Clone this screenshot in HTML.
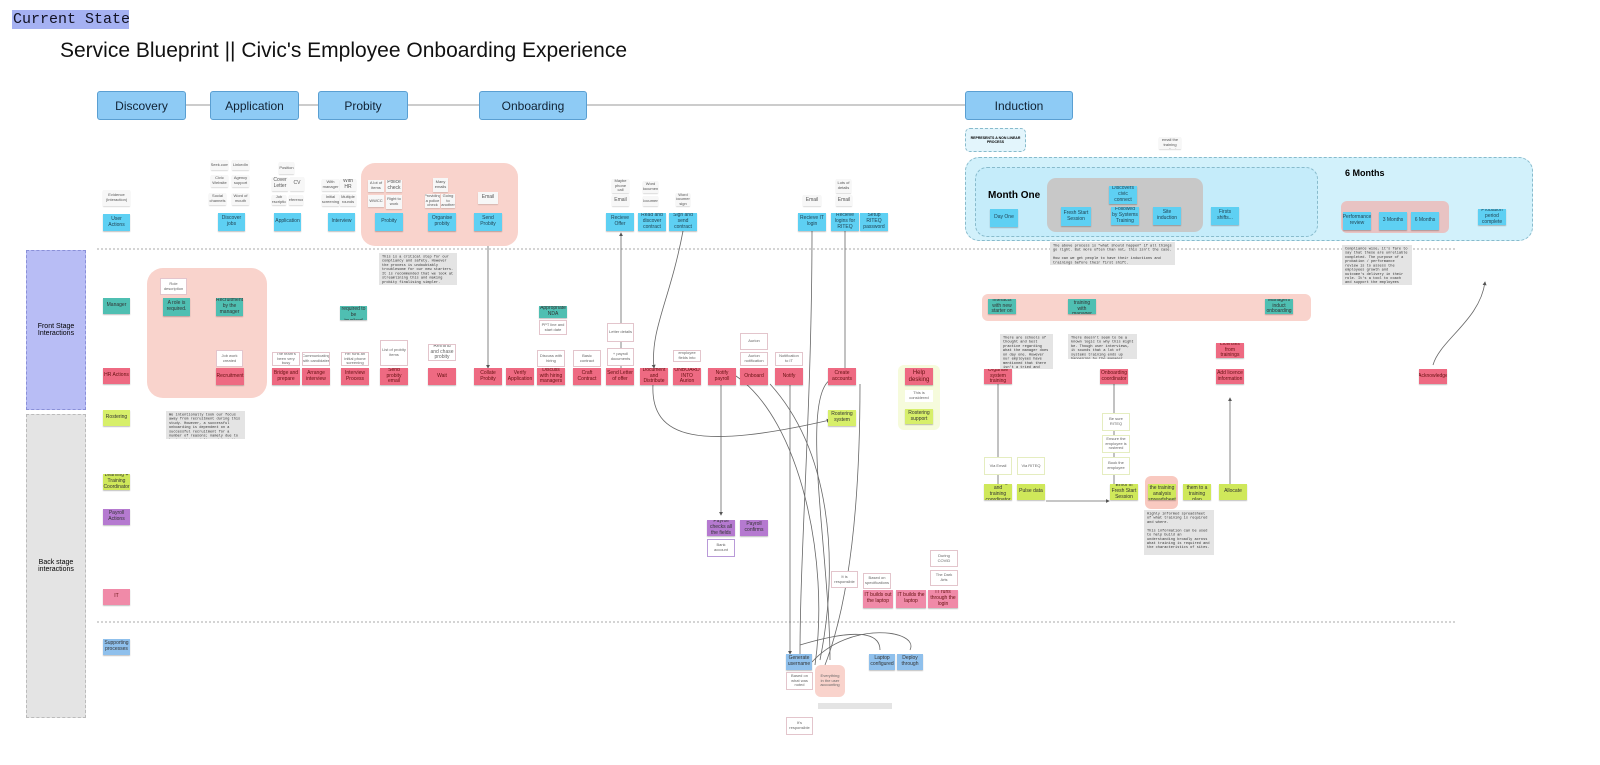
<!DOCTYPE html>
<html><head><meta charset="utf-8"><style>
*{margin:0;padding:0;box-sizing:border-box}
body{width:1600px;height:765px;background:#fff;position:relative;overflow:hidden;font-family:"Liberation Sans",sans-serif}
.a{position:absolute}
.s{position:absolute;display:flex;align-items:center;justify-content:center;text-align:center;font-size:5px;line-height:1.15;color:#333;box-shadow:0 1px 1px rgba(0,0,0,.25);overflow:hidden;padding:1px}
.c{background:#5ed0f3;color:#245}
.t{background:#4fbfb2}
.p{background:#ee6a82;color:#611}
.g{background:#d7ef6a}
.l{background:#cfe85a}
.u{background:#b57ad0}
.b{background:#8fc0ec}
.w{background:#fff;border:1px solid #e3c5cc;box-shadow:none;font-size:4px;color:#666}
.e{background:#f7f7f7;box-shadow:0 1px 1px rgba(0,0,0,.15);font-size:4px;color:#555}
.n{position:absolute;background:#e4e4e4;font-family:"Liberation Mono",monospace;font-size:7.2px;line-height:1.17;color:#333;padding:4px 6px;transform:scale(.5);transform-origin:0 0;overflow:hidden}
.ph{position:absolute;top:91px;height:29px;background:#8ecbf5;border:1px solid #5a9fd2;border-radius:3px;font-size:12px;display:flex;align-items:center;justify-content:center;color:#123}
.lane{position:absolute;left:103px;width:27px;height:16px;font-size:5px}
</style></head><body>
<div class="a" style="left:12px;top:10px;width:117px;height:19px;background:#a5b1f2;font:15px 'Liberation Mono',monospace;line-height:19px;padding-left:1px;color:#112;white-space:nowrap;overflow:hidden">Current State</div>
<div class="a" style="left:60px;top:39px;font-size:21px;color:#111;white-space:nowrap">Service Blueprint || Civic's Employee Onboarding Experience</div>

<svg class="a" style="left:0;top:0" width="1600" height="765">
<defs><marker id="ar" markerWidth="5" markerHeight="5" refX="4" refY="2.5" orient="auto"><path d="M0,0L5,2.5L0,5z" fill="#555"/></marker></defs>
<line x1="97" y1="105" x2="1073" y2="105" stroke="#999" stroke-width="1"/>
<line x1="97" y1="249" x2="1455" y2="249" stroke="#aaa" stroke-dasharray="2,2"/>
<line x1="97" y1="622" x2="1455" y2="622" stroke="#aaa" stroke-dasharray="2,2"/>
<g stroke="#666" fill="none" stroke-width="0.8">
<path d="M488,231V368" marker-end="url(#ar)"/>
<path d="M621,368V233" marker-end="url(#ar)"/>
<path d="M176,316V350H229V360"/>
<path d="M683,231C670,300 650,330 654,368" marker-end="url(#ar)"/>
<path d="M653,384C650,440 700,450 830,420" marker-end="url(#ar)"/>
<path d="M812,231C812,400 800,550 800,654"/>
<path d="M845,231V368"/>
<path d="M790,384V654" marker-end="url(#ar)"/>
<path d="M721,384V515" marker-end="url(#ar)"/>
<path d="M736,376C800,420 830,560 815,665"/>
<path d="M770,384C830,450 840,560 820,660"/>
<path d="M860,384C860,500 850,600 825,665"/>
<path d="M830,380C800,400 830,560 830,660"/>
<path d="M812,662C850,620 920,630 910,650"/>
<path d="M800,645C850,630 880,630 880,650"/>
<path d="M998,384V484"/><path d="M1114,384V484"/><path d="M1046,501H1109" marker-end="url(#ar)"/>
<path d="M1230,484V398" marker-end="url(#ar)"/>
<path d="M1433,365C1440,340 1480,320 1485,282" marker-end="url(#ar)"/>
</g>
</svg>

<div class="ph" style="left:97px;width:89px">Discovery</div>
<div class="ph" style="left:210px;width:89px">Application</div>
<div class="ph" style="left:318px;width:90px">Probity</div>
<div class="ph" style="left:479px;width:108px">Onboarding</div>
<div class="ph" style="left:965px;width:108px">Induction</div>

<div class="a" style="left:26px;top:250px;width:60px;height:160px;background:#b8bdf5;border:1px dashed #8a90d8;font-size:7px;display:flex;align-items:center;justify-content:center;text-align:center">Front Stage<br>Interactions</div>
<div class="a" style="left:26px;top:414px;width:60px;height:304px;background:#e4e4e4;border:1px dashed #bbb;font-size:7px;display:flex;align-items:center;justify-content:center;text-align:center">Back stage<br>interactions</div>

<div class="a" style="left:361px;top:163px;width:157px;height:83px;background:#f9d3cc;border-radius:14px"></div>
<div class="a" style="left:147px;top:268px;width:120px;height:130px;background:#f9d3cc;border-radius:16px"></div>
<div class="a" style="left:965px;top:157px;width:568px;height:84px;background:#d2f1fb;border:1px dashed #8bc;border-radius:14px"></div>
<div class="a" style="left:975px;top:167px;width:343px;height:70px;background:#c5ecfa;border:1px dashed #8bc;border-radius:12px"></div>
<div class="a" style="left:1047px;top:178px;width:156px;height:54px;background:#c8c8c8;border-radius:9px"></div>
<div class="a" style="left:1341px;top:201px;width:108px;height:32px;background:#e8c3c3;border-radius:6px"></div>
<div class="a" style="left:982px;top:294px;width:329px;height:27px;background:#f9d3cc;border-radius:6px"></div>
<div class="a" style="left:898px;top:365px;width:42px;height:65px;background:#f6fbdc;border-radius:6px"></div>
<div class="a" style="left:965px;top:128px;width:61px;height:24px;background:#e3f5fc;border:1px dashed #8bc;border-radius:5px;font-size:3.5px;font-weight:bold;text-align:center;padding-top:7px">REPRESENTS A NON LINEAR PROCESS</div>
<div class="a" style="left:988px;top:190px;font-size:10px;font-weight:bold">Month One</div>
<div class="a" style="left:1345px;top:168px;font-size:9px;font-weight:bold">6 Months</div>

<div class="s e" style="left:103px;top:190px;width:27px;height:16px">Evidence (Interaction)</div>
<div class="s c lane" style="top:214px;height:17px">User Actions</div>
<div class="s t lane" style="top:298px">Manager</div>
<div class="s p lane" style="top:368px">HR Actions</div>
<div class="s g lane" style="top:410px">Rostering</div>
<div class="s l lane" style="top:474px">Learning + Training Coordinator</div>
<div class="s u lane" style="top:509px">Payroll Actions</div>
<div class="s p lane" style="top:589px;background:#f08aa8">IT</div>
<div class="s b lane" style="top:639px">Supporting processes</div>

<div class="s c" style="left:218px;top:213px;width:27px;height:18px">Discover jobs</div>
<div class="s c" style="left:274px;top:213px;width:27px;height:18px">Application</div>
<div class="s c" style="left:328px;top:213px;width:27px;height:18px">Interview</div>
<div class="s c" style="left:375px;top:213px;width:28px;height:18px">Probity</div>
<div class="s c" style="left:428px;top:213px;width:28px;height:18px">Organise probity</div>
<div class="s c" style="left:474px;top:213px;width:28px;height:18px">Send Probity</div>
<div class="s c" style="left:606px;top:213px;width:28px;height:18px">Recieve Offer</div>
<div class="s c" style="left:638px;top:213px;width:28px;height:18px">Read and discover contract</div>
<div class="s c" style="left:669px;top:213px;width:28px;height:18px">Sign and send contract</div>
<div class="s c" style="left:798px;top:213px;width:28px;height:18px">Recieve IT login</div>
<div class="s c" style="left:831px;top:213px;width:28px;height:18px">Recieve logins for RITEQ</div>
<div class="s c" style="left:860px;top:213px;width:28px;height:18px">Setup RITEQ password</div>
<div class="s c" style="left:990px;top:209px;width:28px;height:18px">Day One</div>
<div class="s c" style="left:1109px;top:186px;width:28px;height:18px">Discovers civic connect</div>
<div class="s c" style="left:1061px;top:207px;width:30px;height:19px">Fresh Start Session</div>
<div class="s c" style="left:1111px;top:207px;width:28px;height:18px">Followed by Systems Training</div>
<div class="s c" style="left:1153px;top:207px;width:28px;height:18px">Site induction</div>
<div class="s c" style="left:1211px;top:207px;width:28px;height:18px">Firsts shifts...</div>
<div class="s c" style="left:1343px;top:212px;width:28px;height:18px">Performance review</div>
<div class="s c" style="left:1379px;top:212px;width:28px;height:18px">3 Months</div>
<div class="s c" style="left:1411px;top:212px;width:28px;height:18px">6 Months</div>
<div class="s c" style="left:1478px;top:209px;width:28px;height:16px">Probation period complete</div>

<div class="s e" style="left:211px;top:160px;width:17px;height:10px">Seek.com</div>
<div class="s e" style="left:232px;top:160px;width:17px;height:10px">LinkedIn</div>
<div class="s e" style="left:211px;top:175px;width:17px;height:12px">Civic Website</div>
<div class="s e" style="left:232px;top:175px;width:17px;height:12px">Agency support</div>
<div class="s e" style="left:209px;top:193px;width:17px;height:12px">Social channels</div>
<div class="s e" style="left:232px;top:193px;width:17px;height:12px">Word of mouth</div>
<div class="s e" style="left:279px;top:162px;width:15px;height:12px">Position</div>
<div class="s e" style="left:272px;top:177px;width:16px;height:14px;font-size:5px">Cover Letter</div>
<div class="s e" style="left:290px;top:177px;width:14px;height:14px;font-size:5px">CV</div>
<div class="s e" style="left:272px;top:195px;width:14px;height:10px">Job description</div>
<div class="s e" style="left:289px;top:195px;width:14px;height:10px">References</div>
<div class="s e" style="left:322px;top:179px;width:17px;height:12px">With manager</div>
<div class="s e" style="left:340px;top:179px;width:16px;height:12px;font-size:5px">With HR</div>
<div class="s e" style="left:322px;top:194px;width:17px;height:12px">Initial screening</div>
<div class="s e" style="left:340px;top:194px;width:16px;height:12px">Multiple rounds</div>
<div class="s e" style="left:368px;top:180px;width:16px;height:12px">A lot of items</div>
<div class="s e" style="left:386px;top:180px;width:16px;height:12px;font-size:5px">Police check</div>
<div class="s e" style="left:368px;top:195px;width:16px;height:12px">WWCC</div>
<div class="s e" style="left:386px;top:195px;width:16px;height:14px">Right to work</div>
<div class="s e" style="left:433px;top:178px;width:15px;height:14px">Many emails</div>
<div class="s e" style="left:425px;top:194px;width:15px;height:14px">Providing a police check</div>
<div class="s e" style="left:441px;top:194px;width:14px;height:14px">Going to another</div>
<div class="s e" style="left:478px;top:192px;width:20px;height:12px;font-size:5px">Email</div>
<div class="s e" style="left:612px;top:179px;width:17px;height:14px">Maybe phone call</div>
<div class="s e" style="left:612px;top:195px;width:17px;height:11px;font-size:5px">Email</div>
<div class="s e" style="left:643px;top:181px;width:15px;height:12px">Word document</div>
<div class="s e" style="left:643px;top:196px;width:15px;height:10px">Document</div>
<div class="s e" style="left:676px;top:193px;width:14px;height:13px">Word document sign</div>
<div class="s e" style="left:803px;top:195px;width:18px;height:11px;font-size:5px">Email</div>
<div class="s e" style="left:836px;top:179px;width:15px;height:14px">Lots of details</div>
<div class="s e" style="left:836px;top:195px;width:16px;height:11px;font-size:5px">Email</div>
<div class="s e" style="left:1159px;top:137px;width:22px;height:12px">Notified via email the training coordinator</div>

<div class="s w" style="left:160px;top:278px;width:27px;height:17px">Role description</div>
<div class="s t" style="left:163px;top:298px;width:27px;height:18px">A role is required.</div>
<div class="s t" style="left:216px;top:298px;width:27px;height:18px">Recruitment by the manager</div>
<div class="s t" style="left:340px;top:306px;width:27px;height:14px">Manager required to be involved</div>
<div class="s t" style="left:539px;top:306px;width:28px;height:12px">Appropriate NDA</div>
<div class="s w" style="left:539px;top:320px;width:28px;height:15px">PPT line and start date</div>
<div class="s t" style="left:988px;top:299px;width:28px;height:15px">Manager interacts with new starter on day one</div>
<div class="s t" style="left:1068px;top:299px;width:28px;height:15px">Systems training with manager</div>
<div class="s t" style="left:1265px;top:299px;width:28px;height:15px">Managers induct onboarding</div>

<div class="s w" style="left:216px;top:350px;width:27px;height:17px">Job work created</div>
<div class="s p" style="left:216px;top:368px;width:28px;height:17px">Recruitment</div>
<div class="s w" style="left:272px;top:352px;width:28px;height:14px">The team's been very busy</div>
<div class="s p" style="left:272px;top:368px;width:28px;height:17px">Bridge and prepare</div>
<div class="s w" style="left:302px;top:352px;width:28px;height:14px">Communicating with candidates</div>
<div class="s p" style="left:302px;top:368px;width:28px;height:17px">Arrange interview</div>
<div class="s w" style="left:341px;top:352px;width:28px;height:14px">HR runs an initial phone screening</div>
<div class="s p" style="left:341px;top:368px;width:28px;height:17px">Interview Process</div>
<div class="s w" style="left:380px;top:340px;width:28px;height:26px">List of probity items</div>
<div class="s p" style="left:380px;top:368px;width:28px;height:17px">Send probity email</div>
<div class="s w" style="left:428px;top:344px;width:28px;height:17px;font-size:5px">Remind and chase probity</div>
<div class="s p" style="left:428px;top:368px;width:28px;height:17px">Wait</div>
<div class="s p" style="left:474px;top:368px;width:28px;height:17px">Collate Probity</div>
<div class="s p" style="left:506px;top:368px;width:28px;height:17px">Verify Application</div>
<div class="s w" style="left:537px;top:350px;width:28px;height:17px">Discuss with hiring</div>
<div class="s p" style="left:537px;top:368px;width:28px;height:17px">Discuss with hiring managers</div>
<div class="s w" style="left:573px;top:350px;width:28px;height:17px">Basic contract</div>
<div class="s p" style="left:573px;top:368px;width:28px;height:17px">Craft Contract</div>
<div class="s w" style="left:607px;top:323px;width:27px;height:19px">Letter details</div>
<div class="s w" style="left:607px;top:348px;width:27px;height:18px">+ payroll documents</div>
<div class="s p" style="left:606px;top:368px;width:28px;height:17px">Send Letter of offer</div>
<div class="s p" style="left:640px;top:368px;width:28px;height:17px">Document and Distribute</div>
<div class="s w" style="left:673px;top:350px;width:28px;height:12px">Fill in employee fields into Aurion</div>
<div class="s p" style="left:673px;top:368px;width:28px;height:17px">ONBOARD INTO Aurion</div>
<div class="s p" style="left:708px;top:368px;width:28px;height:17px">Notify payroll</div>
<div class="s w" style="left:740px;top:333px;width:28px;height:17px">Aurion</div>
<div class="s w" style="left:740px;top:352px;width:28px;height:14px">Aurion notification</div>
<div class="s p" style="left:740px;top:368px;width:28px;height:17px">Onboard</div>
<div class="s w" style="left:775px;top:352px;width:28px;height:14px">Notification to IT</div>
<div class="s p" style="left:775px;top:368px;width:28px;height:17px">Notify</div>
<div class="s p" style="left:828px;top:368px;width:28px;height:17px">Create accounts</div>
<div class="s p" style="left:905px;top:368px;width:28px;height:17px;font-size:6px">Help desking</div>
<div class="s w" style="left:905px;top:390px;width:28px;height:12px;border:none">This is considered</div>
<div class="s g" style="left:905px;top:409px;width:28px;height:15px">Rostering support</div>
<div class="s g" style="left:828px;top:410px;width:28px;height:16px">Rostering system</div>
<div class="s p" style="left:984px;top:369px;width:28px;height:15px">Organise system training</div>
<div class="s p" style="left:1100px;top:369px;width:28px;height:15px">Onboarding coordinator</div>
<div class="s p" style="left:1216px;top:343px;width:28px;height:15px">Licenses from trainings</div>
<div class="s p" style="left:1216px;top:369px;width:28px;height:15px">Add licence information</div>
<div class="s p" style="left:1419px;top:369px;width:28px;height:15px">Acknowledge</div>

<div class="s w" style="left:1102px;top:413px;width:28px;height:18px;border-color:#e5edc0">Be sure RITEQ</div>
<div class="s w" style="left:1102px;top:435px;width:28px;height:18px;border-color:#e5edc0">Ensure the employee is rostered</div>
<div class="s w" style="left:1102px;top:457px;width:28px;height:18px;border-color:#e5edc0">Book the employee</div>
<div class="s w" style="left:984px;top:457px;width:28px;height:18px;border-color:#e5edc0">Via Email</div>
<div class="s w" style="left:1017px;top:457px;width:28px;height:18px;border-color:#e5edc0">Via RITEQ</div>
<div class="s l" style="left:984px;top:484px;width:28px;height:16px">Learning and training coordinator</div>
<div class="s l" style="left:1017px;top:484px;width:28px;height:16px">Pulse data</div>
<div class="s l" style="left:1110px;top:484px;width:28px;height:16px">Enrol in Fresh Start Session</div>
<div class="a" style="left:1145px;top:476px;width:33px;height:33px;background:#f9c9c0;border-radius:6px"></div>
<div class="s l" style="left:1148px;top:484px;width:28px;height:16px">Allocate to the training analysis spreadsheet</div>
<div class="s l" style="left:1183px;top:484px;width:28px;height:16px">Allocate them to a training plan</div>
<div class="s l" style="left:1219px;top:484px;width:28px;height:16px">Allocate</div>

<div class="s u" style="left:707px;top:520px;width:28px;height:16px">Payroll checks all the fields</div>
<div class="s u" style="left:740px;top:520px;width:28px;height:16px">Payroll confirms</div>
<div class="s w" style="left:707px;top:539px;width:28px;height:18px;border-color:#b99ad8">Bank account</div>

<div class="s w" style="left:831px;top:571px;width:27px;height:17px">It is responsible</div>
<div class="s w" style="left:863px;top:573px;width:28px;height:16px">Based on specifications</div>
<div class="s w" style="left:930px;top:550px;width:28px;height:17px">During COVID</div>
<div class="s w" style="left:930px;top:570px;width:28px;height:16px">The Dark Arts</div>
<div class="s p" style="left:863px;top:590px;width:30px;height:18px;background:#f08aa8">IT builds out the laptop</div>
<div class="s p" style="left:896px;top:590px;width:30px;height:18px;background:#f08aa8">IT builds the laptop</div>
<div class="s p" style="left:928px;top:590px;width:30px;height:18px;background:#f08aa8">IT runs through the login</div>

<div class="s b" style="left:786px;top:654px;width:26px;height:16px">Generate username</div>
<div class="s w" style="left:786px;top:672px;width:27px;height:18px">Based on what was noted</div>
<div class="a" style="left:815px;top:665px;width:30px;height:32px;background:#f9d3cc;border-radius:6px"></div>
<div class="s w" style="left:819px;top:669px;width:22px;height:24px;border:none;background:transparent">Everything in the user accounting</div>
<div class="a" style="left:818px;top:703px;width:74px;height:6px;background:#e4e4e4"></div>
<div class="s b" style="left:869px;top:654px;width:26px;height:16px">Laptop configured</div>
<div class="s b" style="left:897px;top:654px;width:26px;height:16px">Deploy through</div>
<div class="s w" style="left:786px;top:717px;width:27px;height:18px">It's responsible</div>

<div class="n" style="left:379px;top:253px;width:156px;height:64px">This is a critical step for our compliancy and safety. However the process is undoubtably troublesome for our new starters. It is recommended that we look at streamlining this and making probity finalising simpler.</div>
<div class="n" style="left:166px;top:411px;width:158px;height:56px">We intentionally took our focus away from recruitment during this study. However, a successful onboarding is dependent on a successful recruitment for a number of reasons; namely due to having things delivered just it time.</div>
<div class="n" style="left:1050px;top:242px;width:250px;height:46px">The above process is "what should happen" if all things go right. But more often than not, this isn't the case.<br><br>How can we get people to have their inductions and trainings before their first shift.</div>
<div class="n" style="left:1342px;top:245px;width:140px;height:80px">Compliance wise, it's fare to say that these are unreliable completed. The purpose of a probation / performance review is to assess the employees growth and outcome's delivery in their role. It's a tool to coach and support the employees growth.</div>
<div class="n" style="left:1000px;top:334px;width:106px;height:70px">There are schools of thought and best practice regarding what the manager does on day one. However our employees have mentioned that there isn't a tried and tested approach to this.</div>
<div class="n" style="left:1068px;top:334px;width:138px;height:50px">There doesn't seem to be a known logic to why this might be. Though user interviews, it sounds that a lot of systems training ends up happening by the manager.</div>
<div class="n" style="left:1144px;top:510px;width:140px;height:90px">Highly informed spreadsheet of what training is required and where.<br><br>This information can be used to help build an understanding broadly across what training is required and the characteristics of sites.</div>
</body></html>
